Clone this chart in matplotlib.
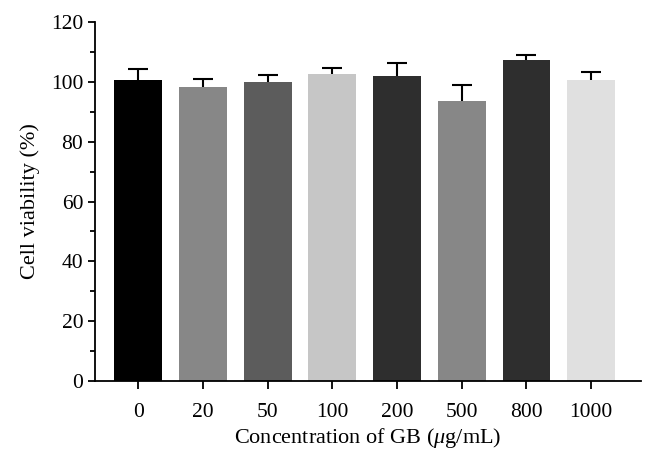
import matplotlib
matplotlib.use('Agg')
import matplotlib.pyplot as plt
import numpy as np
from matplotlib.ticker import MultipleLocator

plt.rcParams['font.family'] = ['Liberation Serif', 'DejaVu Serif']
plt.rcParams['mathtext.fontset'] = 'custom'
plt.rcParams['mathtext.it'] = 'Liberation Serif:italic'

concentrations = ['0', '20', '50', '100', '200', '500', '800', '1000']
viability = [100.6, 98.3, 99.8, 102.7, 101.8, 93.5, 107.4, 100.7]
errors = [3.8, 2.7, 2.4, 2.0, 4.6, 5.4, 1.6, 2.7]
colors = ['#000000', '#878787', '#5c5c5c', '#c6c6c6', '#2e2e2e', '#878787', '#2e2e2e', '#e0e0e0']

fig = plt.figure(figsize=(6.53, 4.65), dpi=100)
ax = fig.add_axes([0.1455, 0.1806, 0.8361, 0.7721])

x = np.arange(len(concentrations))
ax.bar(x, viability, width=0.74, color=colors, edgecolor='none', zorder=2)
# upper error bars only
eb = ax.errorbar(x, viability, yerr=[np.zeros(len(errors)), errors], fmt='none',
                 ecolor='black', elinewidth=1.5, capsize=7.5, capthick=1.5, zorder=1)
eb[1][0].set_visible(False)  # hide lower caps

ax.set_xlim(-0.67, 7.77)
ax.set_ylim(0, 120)
ax.set_xticks(x)
ax.set_xticklabels(concentrations)
ax.yaxis.set_major_locator(MultipleLocator(20))
ax.yaxis.set_minor_locator(MultipleLocator(10))

for s in ['top', 'right']:
    ax.spines[s].set_visible(False)
for s in ['left', 'bottom']:
    ax.spines[s].set_linewidth(1.3)

ax.tick_params(axis='both', which='major', direction='out', length=5, width=1.3,
               labelsize=15.5, color='black')
ax.tick_params(axis='y', which='minor', direction='out', length=3.5, width=1.3)
ax.tick_params(axis='x', which='major', length=6, pad=10)

ax.set_xlabel('Concentration of GB ($\\mu$g/mL)', fontsize=16, labelpad=3)
ax.set_ylabel('Cell viability (%)', fontsize=16, labelpad=8)

fig.savefig('out.png', dpi=100)
